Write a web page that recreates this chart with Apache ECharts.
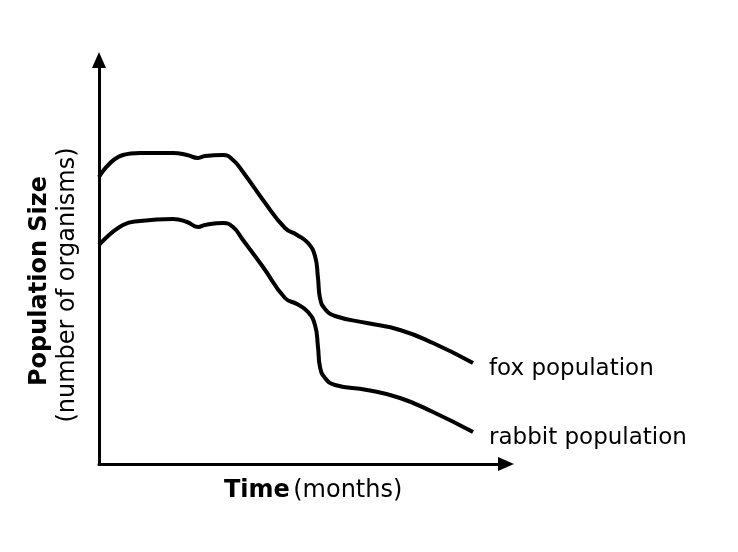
<!DOCTYPE html>
<html>
<head>
<meta charset="utf-8">
<script src="https://cdn.jsdelivr.net/npm/echarts@6/dist/echarts.min.js"></script>
<style>html,body{margin:0;padding:0;background:#fff}#c{width:738px;height:552px}</style>
</head>
<body>
<div id="c"></div>
<script>
// Time positions (arbitrary units, axis has no ticks)
var timeValues = [0, 24, 41, 74, 88, 99, 106, 124, 134, 144, 164, 186, 198, 209, 216, 219, 221, 226, 236, 268, 301, 334, 374];
// Population sizes (arbitrary units)
var foxValues = [287, 309, 311, 311, 309, 306, 308, 309, 304, 292, 264, 236, 229, 221, 208, 186, 166, 155, 148, 141, 134, 121, 101];
var rabbitValues = [219, 239, 243, 245, 242, 237, 239, 241, 237, 224, 197, 166, 160, 152, 139, 117, 97, 86, 79, 74, 66, 52, 32];
var seriesNames = ['fox population', 'rabbit population'];
var xMax = 407, yMax = 404;

function pairs(xs, ys) { return xs.map(function (x, i) { return [x, ys[i]]; }); }

var font = 'DejaVu Sans, Verdana, sans-serif';
var chart = echarts.init(document.getElementById('c'));
function mkSeries(name, vals) {
  return {
    name: name, type: 'line', data: pairs(timeValues, vals),
    smooth: 0.5, symbol: 'none',
    lineStyle: { color: '#000', width: 4 },
    endLabel: { show: true, formatter: '{a}', color: '#000', fontFamily: font, fontSize: 23, distance: 16, offset: [0, 6] },
    animation: false
  };
}
chart.setOption({
  animation: false,
  grid: { left: 99, top: 60, width: 407, height: 404 },
  xAxis: {
    type: 'value', min: 0, max: xMax,
    axisLine: { lineStyle: { color: '#000', width: 3 }, symbol: ['none', 'triangle'], symbolSize: [14, 16] },
    axisTick: { show: false }, axisLabel: { show: false }, splitLine: { show: false }
  },
  yAxis: {
    type: 'value', min: 0, max: yMax,
    axisLine: { show: true, lineStyle: { color: '#000', width: 3 }, symbol: ['none', 'triangle'], symbolSize: [14, 16] },
    axisTick: { show: false }, axisLabel: { show: false }, splitLine: { show: false }
  },
  graphic: [
    { type: 'text', left: 224, top: 479, style: { rich: { b: { fontWeight: 'bold', fontFamily: font, fontSize: 24, fill: '#000' }, n: { fontFamily: font, fontSize: 24, fill: '#000' } }, text: '{b|Time} {n|(months)}', fill: '#000' } },
    { type: 'text', x: 40, y: 281, rotation: Math.PI / 2, style: { text: 'Population Size', font: 'bold 24px ' + font, fill: '#000', align: 'center', verticalAlign: 'middle' } },
    { type: 'text', x: 68, y: 285, rotation: Math.PI / 2, style: { text: '(number of organisms)', font: '24px ' + font, fill: '#000', align: 'center', verticalAlign: 'middle' } }
  ],
  series: [mkSeries(seriesNames[0], foxValues), mkSeries(seriesNames[1], rabbitValues)]
});
</script>
</body>
</html>
